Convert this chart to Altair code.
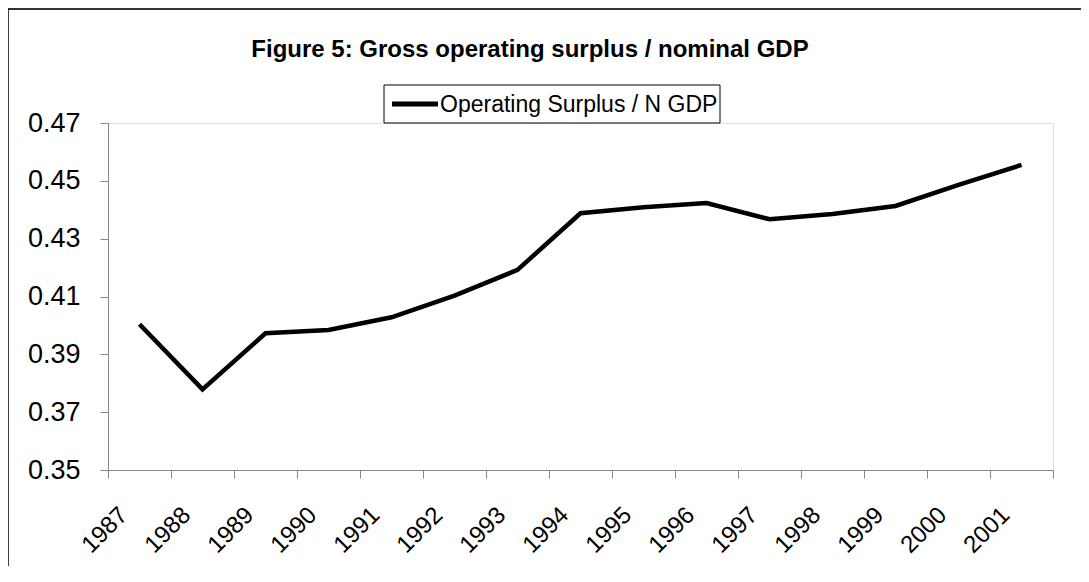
import altair as alt
import pandas as pd

years = ["1987", "1988", "1989", "1990", "1991", "1992", "1993", "1994",
         "1995", "1996", "1997", "1998", "1999", "2000", "2001"]
values = [0.4004, 0.3779, 0.3973, 0.3984, 0.4028, 0.4103, 0.4192, 0.4388,
          0.4409, 0.4423, 0.4367, 0.4385, 0.4413, 0.4486, 0.4555]
series_name = "Operating Surplus / N GDP"
y_ticks = [0.35, 0.37, 0.39, 0.41, 0.43, 0.45, 0.47]
title_text = "Figure 5: Gross operating surplus / nominal GDP"

FONT = "Liberation Sans, Arial, sans-serif"

df = pd.DataFrame({"year": years, "value": values, "series": [series_name] * len(years)})
dummy = pd.DataFrame({"a": [0]})
legend_df = pd.DataFrame({"label": [series_name]})
title_df = pd.DataFrame({"label": [title_text]})

line = alt.Chart(df).mark_line(color="#000000", strokeWidth=4.5, strokeJoin="miter").encode(
    x=alt.X(
        "year:O",
        sort=years,
        title=None,
        scale=alt.Scale(type="band", paddingInner=0, paddingOuter=0),
        axis=alt.Axis(
            tickBand="extent",
            labelAngle=-45,
            labelAlign="right",
            labelBaseline="middle",
            labelPadding=33,
            labelOffset=-16,
            labelFontSize=24,
            tickSize=8,
        ),
    ),
    y=alt.Y(
        "value:Q",
        title=None,
        scale=alt.Scale(domain=[0.35, 0.47], nice=False, zero=False),
        axis=alt.Axis(values=y_ticks, format=".2f", labelFontSize=27, labelPadding=20,
                      tickSize=8, grid=False),
    ),
)

# Legend box (manual, to match the reference's compact framed legend)
legend_box = alt.Chart(dummy).mark_rect(fill="#ffffff", stroke="#000000", strokeWidth=1).encode(
    x=alt.value(276), x2=alt.value(612), y=alt.value(-38), y2=alt.value(0)
)
legend_swatch = alt.Chart(dummy).mark_rule(color="#000000", strokeWidth=5).encode(
    x=alt.value(284), x2=alt.value(330), y=alt.value(-19)
)
legend_label = alt.Chart(legend_df).mark_text(
    align="left", baseline="middle", font=FONT, fontSize=23, color="#000000"
).encode(x=alt.value(332), y=alt.value(-18), text="label:N")

title_mark = alt.Chart(title_df).mark_text(
    align="center", baseline="alphabetic", font=FONT, fontSize=24, fontWeight="bold",
    color="#000000"
).encode(x=alt.value(422), y=alt.value(-66), text="label:N")

border_top = alt.Chart(dummy).mark_rule(color="#333333", strokeWidth=2).encode(
    x=alt.value(-100), x2=alt.value(1100), y=alt.value(-114)
)
border_left = alt.Chart(dummy).mark_rule(color="#000000", strokeWidth=1.5).encode(
    x=alt.value(-100), y=alt.value(-114), y2=alt.value(600)
)

chart = alt.layer(
    line, legend_box, legend_swatch, legend_label, title_mark, border_top, border_left
).properties(
    width=945,
    height=347,
    padding={"left": 100, "top": 115, "right": 28, "bottom": 96},
    autosize=alt.AutoSizeParams(type="none"),
).configure_view(strokeWidth=0).configure_axis(
    labelFont=FONT,
    labelColor="#000000",
    domainColor="#000000",
    tickColor="#000000",
    domainWidth=1,
    tickWidth=1,
).configure(background="#ffffff")

chart.save("out.html", embed_options={"renderer": "svg", "actions": False})
